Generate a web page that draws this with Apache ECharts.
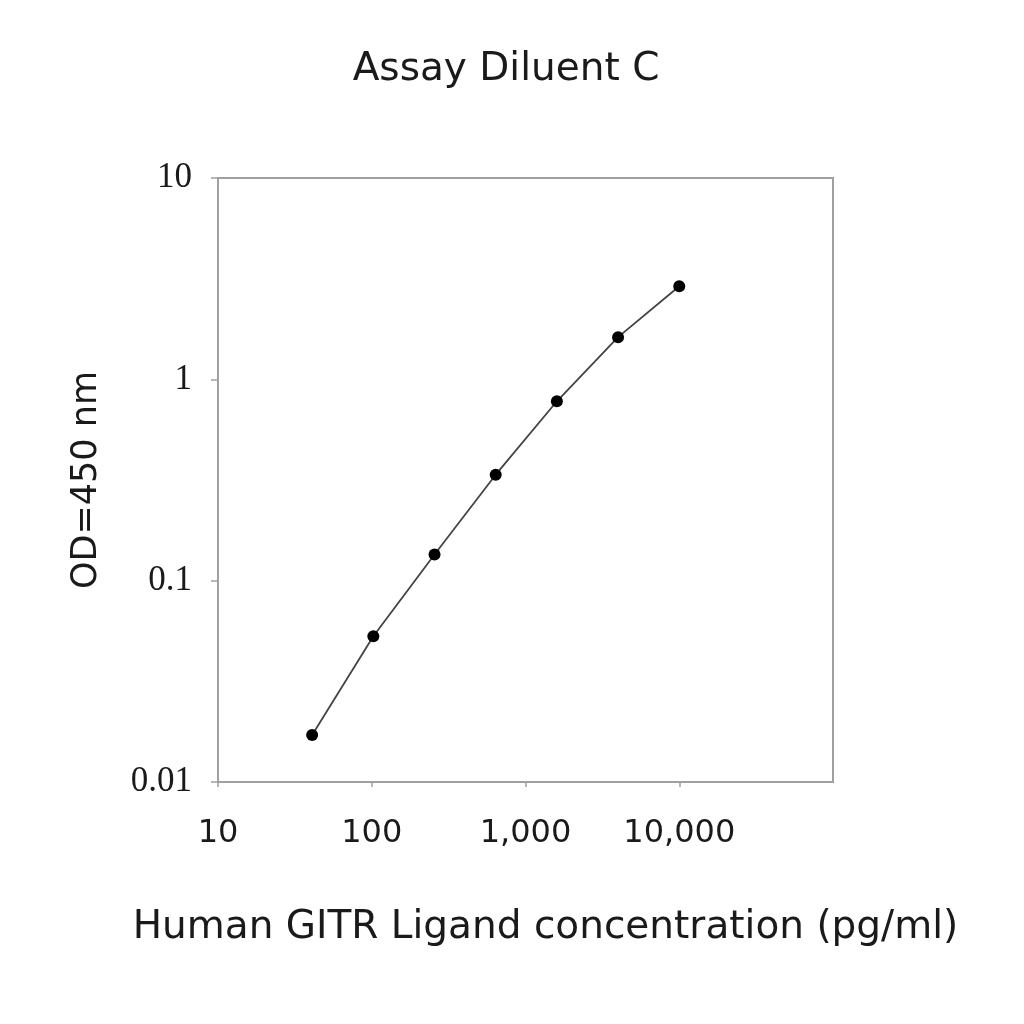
<!DOCTYPE html>
<html>
<head>
<meta charset="utf-8">
<script src="https://cdn.jsdelivr.net/npm/echarts@6/dist/echarts.min.js"></script>
<style>
html,body{margin:0;padding:0;background:#fff;}
#chart{width:1024px;height:1024px;}
</style>
</head>
<body>
<div id="chart"></div>
<script>
const chartTitle = "Assay Diluent C";
const xAxisTitle = "Human GITR Ligand concentration (pg/ml)";
const yAxisTitle = "OD=450 nm";
const concentrations = [40.96, 102.4, 256, 640, 1600, 4000, 10000];
const odValues = [0.0171, 0.053, 0.135, 0.336, 0.778, 1.62, 2.90];
const xRange = [10, 100000];
const yRange = [0.01, 10];

const seriesData = concentrations.map((c, i) => [c, odValues[i]]);

function fmtX(v) {
  const r = Math.round(v);
  if (r >= 100000) return '';
  return String(r).replace(/\B(?=(\d{3})+(?!\d))/g, ',');
}
function fmtY(v) {
  return String(parseFloat(Number(v).toPrecision(6)));
}

const chart = echarts.init(document.getElementById('chart'), null, {renderer: 'canvas'});
chart.setOption({
  backgroundColor: '#ffffff',
  animation: false,
  title: {
    text: chartTitle,
    left: 501,
    textAlign: 'center',
    top: 45,
    textStyle: {fontFamily: 'DejaVu Sans', fontSize: 39, fontWeight: 'normal', color: '#1a1a1a'}
  },
  grid: {
    left: 218, right: 191, top: 178, bottom: 242,
    show: true, borderColor: '#a0a0a0', borderWidth: 2, backgroundColor: 'transparent'
  },
  xAxis: {
    type: 'log', logBase: 10, min: xRange[0], max: xRange[1],
    name: xAxisTitle, nameLocation: 'middle', nameGap: 126,
    nameTextStyle: {fontFamily: 'DejaVu Sans', fontSize: 39, color: '#1a1a1a', padding: [0, 0, 0, 40]},
    axisLine: {show: true, lineStyle: {color: '#a0a0a0', width: 2}},
    axisTick: {show: true, length: 5, lineStyle: {color: '#a0a0a0', width: 1.5}},
    axisLabel: {formatter: fmtX, margin: 36, fontFamily: 'DejaVu Sans', fontSize: 32, color: '#1a1a1a', showMaxLabel: false},
    splitLine: {show: false},
    minorTick: {show: false}
  },
  yAxis: {
    type: 'log', logBase: 10, min: yRange[0], max: yRange[1],
    name: yAxisTitle, nameLocation: 'middle', nameGap: 114,
    nameTextStyle: {fontFamily: 'DejaVu Sans', fontSize: 35, color: '#1a1a1a'},
    axisLine: {show: true, lineStyle: {color: '#a0a0a0', width: 2}},
    axisTick: {show: true, length: 7, lineStyle: {color: '#a0a0a0', width: 1.5}},
    axisLabel: {formatter: fmtY, margin: 26, fontFamily: 'Liberation Serif', fontSize: 35, color: '#1a1a1a'},
    splitLine: {show: false}
  },
  series: [{
    type: 'line',
    data: seriesData,
    symbol: 'circle',
    symbolSize: 12,
    itemStyle: {color: '#000'},
    lineStyle: {color: '#444', width: 1.8},
    smooth: false
  }]
});
</script>
</body>
</html>
